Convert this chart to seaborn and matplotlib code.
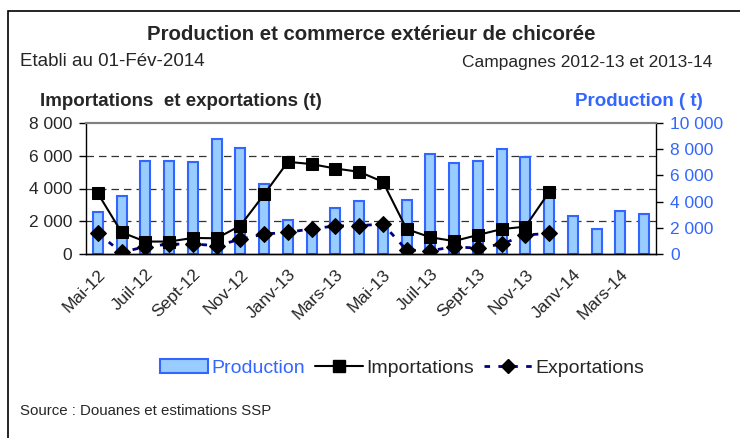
import numpy as np
import pandas as pd
import seaborn as sns
import matplotlib.pyplot as plt
from matplotlib.patches import Rectangle, Patch
from matplotlib.lines import Line2D
from matplotlib.transforms import ScaledTranslation

months = ["Mai-12", "Juin-12", "Juil-12", "Août-12", "Sept-12", "Oct-12",
          "Nov-12", "Déc-12", "Janv-13", "Févr-13", "Mars-13", "Avr-13",
          "Mai-13", "Juin-13", "Juil-13", "Août-13", "Sept-13", "Oct-13",
          "Nov-13", "Déc-13", "Janv-14", "Févr-14", "Mars-14", "Avr-14"]

# production (t), right axis
production = [3230, 4450, 7120, 7120, 7050, 8780, 8070, 5370, 2600, 2000,
              3530, 4070, 2200, 4120, 7610, 6920, 7080, 7990, 7430, 4370,
              2920, 1880, 3260, 3050]

# imports / exports (t), left axis - no data after Déc-13
importations = [3700, 1320, 760, 760, 980, 960, 1730, 3640, 5630, 5490,
                5220, 5020, 4410, 1520, 1020, 790, 1160, 1520, 1670, 3780,
                np.nan, np.nan, np.nan, np.nan]
exportations = [1260, 100, 450, 600, 610, 510, 900, 1220, 1320, 1540,
                1710, 1730, 1830, 240, 200, 450, 350, 610, 1160, 1260,
                np.nan, np.nan, np.nan, np.nan]

BLUE = "#3366FF"
LIGHT = "#99CCFF"
NAVY = "#000080"

sns.set_style("white")
plt.rcParams["font.family"] = ["Liberation Sans", "DejaVu Sans"]

df = pd.DataFrame({"mois": months, "pos": np.arange(len(months)),
                   "production": production,
                   "importations": importations,
                   "exportations": exportations})

fig = plt.figure(figsize=(7.4, 4.38), dpi=100)
ax = fig.add_axes([86 / 740, 1 - 254 / 438, 570 / 740, 131 / 438])
ax2 = ax.twinx()

# bars on the right axis, drawn behind the lines
sns.barplot(data=df, x="pos", y="production", ax=ax2, color=LIGHT,
            saturation=1, width=0.42, edgecolor=BLUE, linewidth=1.5)
ax2.set_ylim(0, 10000)
for v in [2500, 5000, 7500]:
    ax2.axhline(v, color="#333333", lw=0.9, ls=(0, (6, 4)), zorder=0)

sns.lineplot(data=df, x="pos", y="importations", ax=ax, color="black",
             lw=1.5, marker="s", markersize=9, markeredgecolor="black",
             markerfacecolor="black")
sns.lineplot(data=df, x="pos", y="exportations", ax=ax, color=NAVY,
             lw=2, ls=(0, (2, 3)), marker="D", markersize=8,
             markeredgecolor="black", markerfacecolor="black")

ax.set_zorder(ax2.get_zorder() + 1)
ax.patch.set_visible(False)
ax.set_ylim(0, 8000)
ax.set_xlim(-0.5, len(months) - 0.5)


def fmt(v):
    return f"{int(v):,}".replace(",", " ")


lt = [0, 2000, 4000, 6000, 8000]
ax.set_yticks(lt)
ax.set_yticklabels([fmt(v) for v in lt], fontsize=12.5)
rt = [0, 2000, 4000, 6000, 8000, 10000]
ax2.set_yticks(rt)
ax2.set_yticklabels([fmt(v) for v in rt], fontsize=12.5, color=BLUE)

ax.set_xticks(np.arange(len(months)))
ax.set_xticklabels([m if i % 2 == 0 else "" for i, m in enumerate(months)],
                   rotation=45, ha="right", rotation_mode="anchor",
                   fontsize=12.5)
shift = ScaledTranslation(-0.07, -0.02, fig.dpi_scale_trans)
for lbl in ax.get_xticklabels():
    lbl.set_transform(lbl.get_transform() + shift)
ax.set_xticks(np.arange(len(months) + 1) - 0.5, minor=True)
ax.tick_params(axis="x", which="major", length=0, pad=9)
ax.tick_params(axis="x", which="minor", length=5, width=1, color="black",
               direction="out")
ax.tick_params(axis="y", length=5, width=1, color="black", direction="out",
               pad=5)
ax2.tick_params(axis="y", length=5, width=1, color="black", direction="out",
                pad=5)
ax.set_xlabel("")
ax.set_ylabel("")
ax2.set_xlabel("")
ax2.set_ylabel("")

for a in (ax, ax2):
    for s in ("left", "right", "bottom"):
        a.spines[s].set_color("black")
        a.spines[s].set_linewidth(1)
    a.spines["top"].set_color("#808080")
    a.spines["top"].set_linewidth(1.5)
ax.spines["right"].set_visible(False)
ax2.spines["left"].set_visible(False)

# outer frame (only top and left edges visible in the image)
fig.patches.append(Rectangle((8 / 740, -0.05), 1.0, 1 - 11 / 438 + 0.05,
                             transform=fig.transFigure, fill=False,
                             edgecolor="black", lw=1.2))

fig.text(371 / 740, 1 - 35 / 438,
         "Production et commerce extérieur de chicorée",
         ha="center", va="center", fontsize=14.7, fontweight="bold")
fig.text(20 / 740, 1 - 62 / 438, "Etabli au 01-Fév-2014",
         ha="left", va="center", fontsize=13.5)
fig.text(712 / 740, 1 - 62 / 438, "Campagnes 2012-13 et 2013-14",
         ha="right", va="center", fontsize=12.5)
fig.text(40 / 740, 1 - 101 / 438, "Importations  et exportations (t)",
         ha="left", va="center", fontsize=13.5, fontweight="bold")
fig.text(703 / 740, 1 - 101 / 438, "Production ( t)",
         ha="right", va="center", fontsize=13.5, fontweight="bold",
         color=BLUE)
fig.text(20 / 740, 1 - 411 / 438, "Source : Douanes et estimations SSP",
         ha="left", va="center", fontsize=10.8)

handles = [Patch(facecolor=LIGHT, edgecolor=BLUE, lw=1.5),
           Line2D([], [], color="black", lw=1.5, marker="s", markersize=8),
           Line2D([], [], color=NAVY, lw=2, ls=(0, (2, 3)), marker="D",
                  markersize=7, markerfacecolor="black",
                  markeredgecolor="black")]
leg = fig.legend(handles, ["Production", "Importations", "Exportations"],
                 loc="center", bbox_to_anchor=(402 / 740, 1 - 368 / 438),
                 ncol=3, frameon=False, fontsize=14, handlelength=2.5,
                 handletextpad=0.15, columnspacing=0.5, handleheight=0.7)
leg.get_texts()[0].set_color(BLUE)

fig.savefig("out.png", dpi=100)
